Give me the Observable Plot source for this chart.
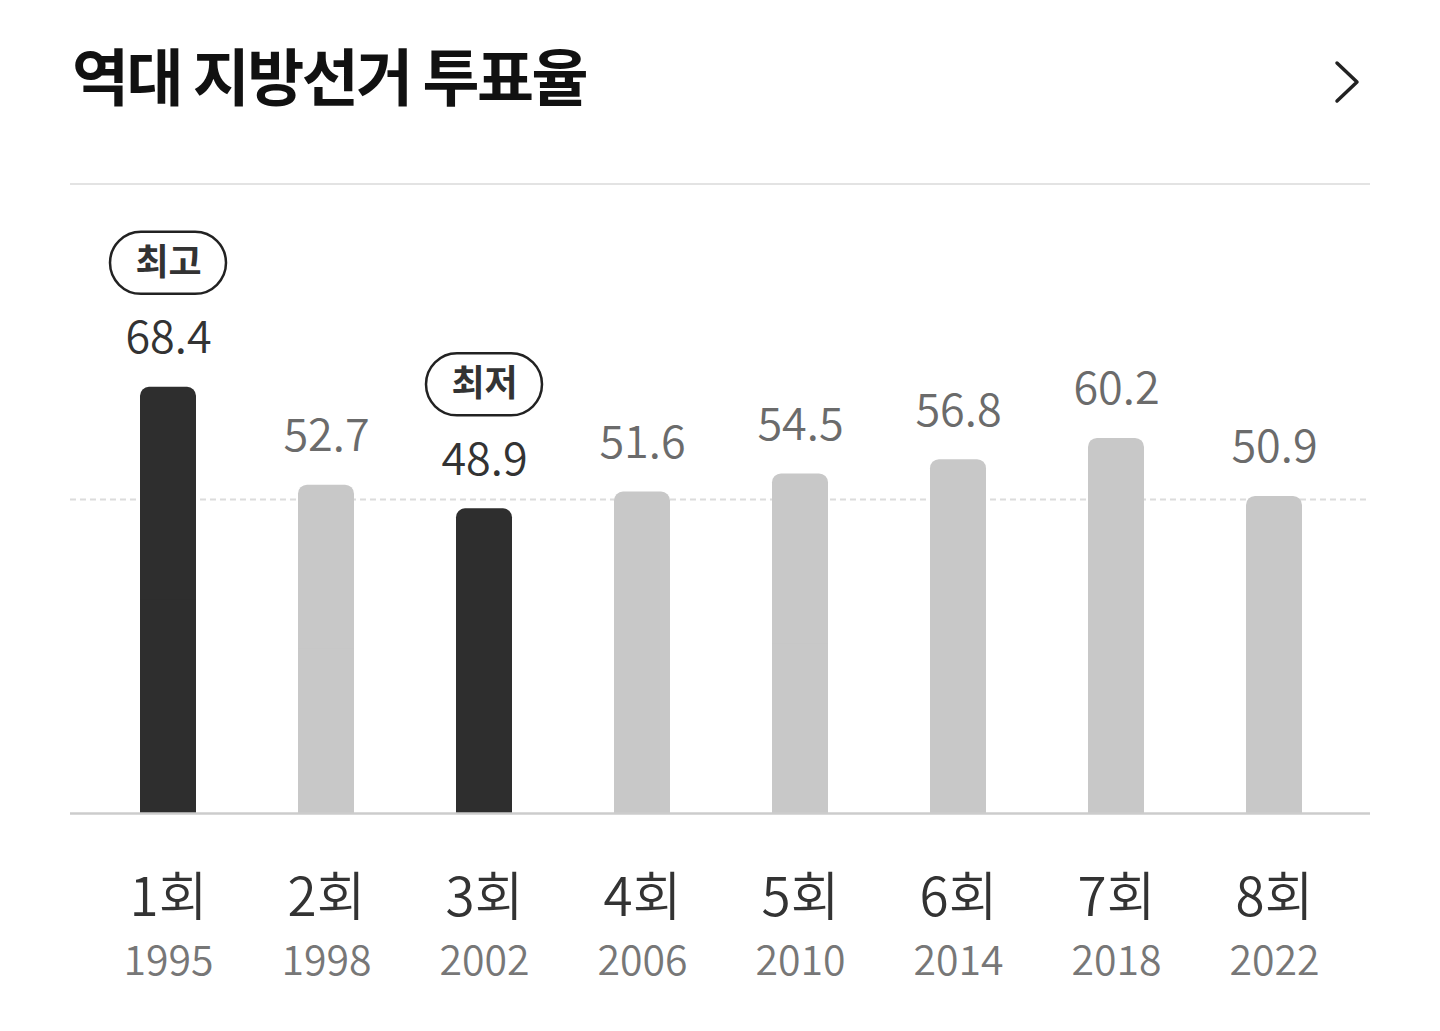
<!DOCTYPE html>
<html>
<head>
<meta charset="utf-8">
<script src="https://cdn.jsdelivr.net/npm/d3@7"></script>
<script src="https://cdn.jsdelivr.net/npm/@observablehq/plot@0.6"></script>
<style>
  html, body { margin: 0; padding: 0; background: #fff; width: 1440px; height: 1031px; overflow: hidden; }
  body { position: relative; font-family: "Noto Sans CJK KR", "Noto Sans", sans-serif; }
  #title { position: absolute; left: 72px; top: 29px; font-size: 62px; font-weight: 700; color: #111; letter-spacing: -2.5px; line-height: 90px; white-space: nowrap; }
  #chev { position: absolute; left: 1320px; top: 50px; }
  #divider { position: absolute; left: 70px; top: 183px; width: 1300px; height: 0; border-top: 2px solid #e3e3e3; }
  #chart { position: absolute; left: 0; top: 190px; }
</style>
</head>
<body>
<div id="title">역대 지방선거 투표율</div>
<svg id="chev" width="60" height="70"><polyline points="17,13 37,32 17,51" fill="none" stroke="#222" stroke-width="3.5" stroke-linecap="round" stroke-linejoin="round"/></svg>
<div id="divider"></div>
<div id="chart"></div>
<script>
// ---- data ----
const rounds = ["1회", "2회", "3회", "4회", "5회", "6회", "7회", "8회"];
const years = ["1995", "1998", "2002", "2006", "2010", "2014", "2018", "2022"];
const turnout = [68.4, 52.7, 48.9, 51.6, 54.5, 56.8, 60.2, 50.9];
const badges = ["최고", null, "최저", null, null, null, null, null];
const guideValue = 50.4;

const data = rounds.map((r, i) => ({round: r, year: years[i], value: turnout[i], badge: badges[i]}));
const badged = data.filter(d => d.badge);

const DARK = "#2e2e2e", LIGHT = "#c8c8c8";
const fill = d => d.badge ? DARK : LIGHT;

const chart = Plot.plot({
  width: 1440,
  height: 841,
  marginLeft: 70,
  marginRight: 70,
  marginTop: 0,
  marginBottom: 218,
  style: {fontFamily: "'Noto Sans CJK KR', 'Noto Sans', sans-serif", background: "transparent", overflow: "visible"},
  x: {domain: rounds, range: [87.85, 1354.15], paddingInner: 0.646, paddingOuter: 0.323, axis: null},
  y: {domain: [0, 100], axis: null},
  marks: [
    Plot.ruleY([guideValue], {stroke: "#dcdcdc", strokeWidth: 2, strokeDasharray: "6,4"}),
    // rounded bars
    Plot.barY(data, {x: "round", y: "value", fill, rx: 9}),
    // square off the bottom corners
    Plot.barY(data, {x: "round", y1: 0, y2: d => d.value / 2, fill}),
    Plot.ruleY([0], {stroke: "#cccccc", strokeWidth: 2.5}),
    // value labels
    Plot.text(data, {x: "round", y: "value", text: d => d.value.toFixed(1), dy: -34, lineAnchor: "bottom",
      fontSize: 45, fontWeight: 350, fill: d => d.badge ? "#333" : "#6b6b6b"}),
    // badges (pill outline)
    Plot.barY(badged, {x: "round", y1: "value", y2: "value", fill: "white", stroke: "#222", strokeWidth: 2.5,
      insetLeft: -30, insetRight: -30, insetTop: -155, insetBottom: 93, rx: 31}),
    Plot.text(badged, {x: "round", y: "value", text: "badge", dy: -124, lineAnchor: "middle",
      fontSize: 36, fontWeight: 700, fill: "#333"}),
    // category labels
    Plot.text(data, {x: "round", y: 0, text: "round", dy: 102, lineAnchor: "bottom", fontSize: 53, fontWeight: 350, fill: "#333"}),
    Plot.text(data, {x: "round", y: 0, text: "year", dy: 161, lineAnchor: "bottom", fontSize: 41, fontWeight: 350, fill: "#777"})
  ]
});
document.getElementById("chart").append(chart);
</script>
</body>
</html>
